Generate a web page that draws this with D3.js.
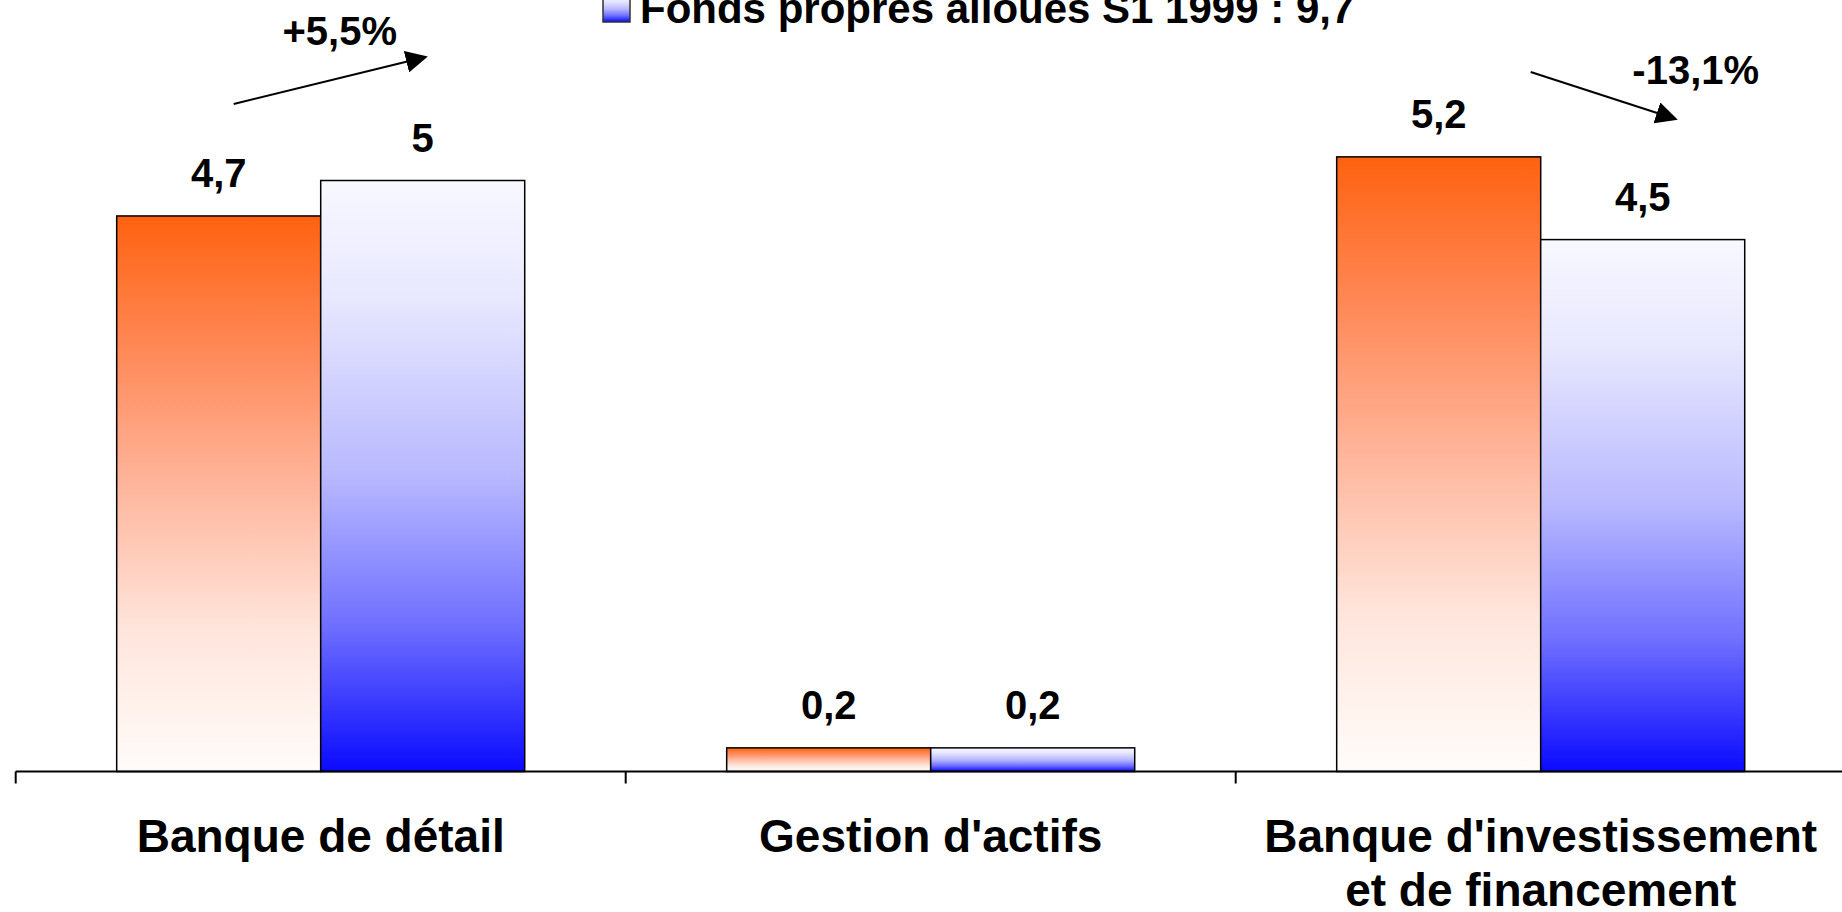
<!DOCTYPE html>
<html>
<head>
<meta charset="utf-8">
<script src="https://cdn.jsdelivr.net/npm/d3@7"></script>
<style>
  body { margin: 0; background: #fff; }
  text { font-family: "Liberation Sans", Arial, sans-serif; font-weight: bold; fill: #000; }
</style>
</head>
<body>
<svg id="chart" width="1842" height="912"></svg>
<script>
// données
var categories = ["Banque de détail", "Gestion d'actifs", "Banque d'investissement\net de financement"];
var seriesNames = ["Fonds propres alloues S1 1998", "Fonds propres alloues S1 1999 : 9,7"];
var values1998 = [4.7, 0.2, 5.2];
var values1999 = [5.0, 0.2, 4.5];
var changeLabels = ["+5,5%", null, "-13,1%"];

var svg = d3.select("#chart");
var W = 1842, H = 912;

svg.append("rect").attr("width", W).attr("height", H).attr("fill", "#fff");

var x = d3.scaleBand().domain(categories).range([15.7, 1845.7]).padding(0);
var x1 = d3.scaleBand().domain(seriesNames).range([0, x.bandwidth()]).paddingInner(0).paddingOuter(0.495);
var y = d3.scaleLinear().domain([0, 6]).range([771.5, 771.5 - 6 * 118.2]);

// dégradés
var defs = svg.append("defs");
function grad(id, stops) {
    var g = defs.append("linearGradient").attr("id", id)
        .attr("x1", 0).attr("y1", 0).attr("x2", 0).attr("y2", 1);
    stops.forEach(function (s) {
        g.append("stop").attr("offset", s[0]).attr("stop-color", s[1]);
    });
}
grad("gOrange", [[0, "#FF6210"], [0.25, "#FF8A5A"], [0.5, "#FFB8A0"], [0.75, "#FFE6DD"], [1, "#FFFCFA"]]);
grad("gBlue", [[0, "#F8F8FF"], [0.2, "#E8E8FF"], [0.5, "#B8B8FF"], [0.75, "#7070FF"], [1, "#0A0AFF"]]);
var fills = ["url(#gOrange)", "url(#gBlue)"];

var rows = categories.map(function (c, i) {
    return { cat: c, vals: [values1998[i], values1999[i]] };
});

var groups = svg.selectAll("g.grp").data(rows).enter().append("g")
    .attr("class", "grp")
    .attr("transform", function (d) { return "translate(" + x(d.cat) + ",0)"; });

groups.selectAll("rect").data(function (d) {
    return d.vals.map(function (v, j) { return { s: seriesNames[j], v: v, j: j }; });
}).enter().append("rect")
    .attr("x", function (d) { return x1(d.s); })
    .attr("y", function (d) { return y(d.v); })
    .attr("width", x1.bandwidth())
    .attr("height", function (d) { return y(0) - y(d.v); })
    .attr("fill", function (d) { return fills[d.j]; })
    .attr("stroke", "#000")
    .attr("stroke-width", 1.5);

groups.selectAll("text.val").data(function (d) {
    return d.vals.map(function (v, j) { return { s: seriesNames[j], v: v }; });
}).enter().append("text")
    .attr("class", "val")
    .attr("x", function (d) { return x1(d.s) + x1.bandwidth() / 2; })
    .attr("y", function (d) { return y(d.v) - 29; })
    .attr("text-anchor", "middle")
    .attr("font-size", 40)
    .text(function (d) { return String(d.v).replace(".", ","); });

// axe
var x0 = x.range()[0], xEnd = x.range()[1];
svg.append("line")
    .attr("x1", x0).attr("x2", xEnd)
    .attr("y1", y(0)).attr("y2", y(0))
    .attr("stroke", "#000").attr("stroke-width", 2.2);

var tickXs = categories.map(function (c) { return x(c); });
svg.selectAll("line.tick").data(tickXs).enter().append("line")
    .attr("class", "tick")
    .attr("x1", function (d) { return d; }).attr("x2", function (d) { return d; })
    .attr("y1", y(0)).attr("y2", y(0) + 12)
    .attr("stroke", "#000").attr("stroke-width", 2);

// libellés des catégories
svg.selectAll("text.cat").data(categories).enter().append("text")
    .attr("class", "cat")
    .attr("text-anchor", "middle")
    .attr("font-size", 46)
    .attr("transform", function (d) { return "translate(" + (x(d) + x.bandwidth() / 2) + ",852)"; })
    .each(function (d) {
        var t = d3.select(this);
        d.split("\n").forEach(function (line, k) {
            t.append("tspan").attr("x", 0).attr("y", k * 54).text(line);
        });
    });

// flèches d'évolution
defs.append("marker").attr("id", "head")
    .attr("viewBox", "0 0 10 10").attr("refX", 9).attr("refY", 5)
    .attr("markerWidth", 11).attr("markerHeight", 11)
    .attr("markerUnits", "strokeWidth")
    .attr("orient", "auto")
    .append("path").attr("d", "M0,0L10,5L0,10z").attr("fill", "#000");

var arrows = [
    { i: 0, dx1: 218, y1: 104, dx2: 410, y2: 57, tx: 324, ty: 45 },
    { i: 2, dx1: 295, y1: 72, dx2: 440, y2: 119, tx: 460, ty: 84 }
];
arrows.forEach(function (a) {
    var gx = x(categories[a.i]);
    svg.append("line")
        .attr("x1", gx + a.dx1).attr("y1", a.y1)
        .attr("x2", gx + a.dx2).attr("y2", a.y2)
        .attr("stroke", "#000").attr("stroke-width", 2)
        .attr("marker-end", "url(#head)");
    svg.append("text")
        .attr("x", gx + a.tx).attr("y", a.ty)
        .attr("text-anchor", "middle")
        .attr("font-size", 40)
        .text(changeLabels[a.i]);
});

// légende (seule l'entrée 1999 est visible)
var leg = svg.append("g").attr("transform", "translate(603,23)");
leg.append("rect")
    .attr("x", 0).attr("y", -27).attr("width", 27).attr("height", 26)
    .attr("fill", fills[1]).attr("stroke", "#333").attr("stroke-width", 1.5);
leg.append("text")
    .attr("x", 37).attr("y", 0)
    .attr("font-size", 42)
    .text(seriesNames[1]);
</script>
</body>
</html>
